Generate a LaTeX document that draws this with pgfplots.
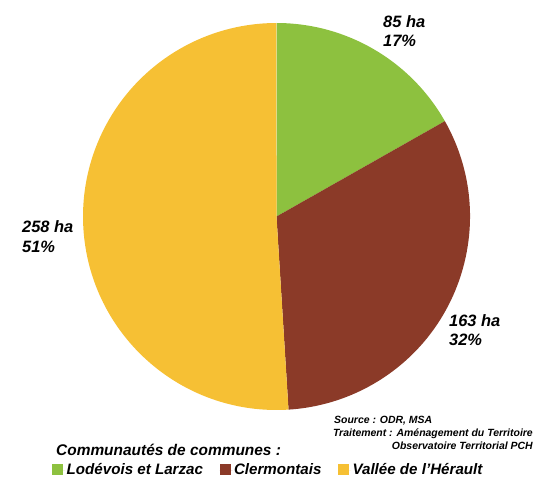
\documentclass[border=0pt]{standalone}
\usepackage{fontspec}
\setmainfont{Liberation Sans}
\usepackage{pgfplots}
\usepackage{pgfplotstable}
\pgfplotsset{compat=1.18}
\definecolor{pgreen}{RGB}{141,193,63}
\definecolor{pbrown}{RGB}{139,58,40}
\definecolor{pyellow}{RGB}{246,192,52}

\pgfplotstableread{
slice ha pct
Lodevois 85 17
Clermontais 163 32
Vallee 258 51
}\piedata
\pgfplotstablegetelem{0}{ha}\of\piedata\edef\va{\pgfplotsretval}
\pgfplotstablegetelem{1}{ha}\of\piedata\edef\vb{\pgfplotsretval}
\pgfplotstablegetelem{2}{ha}\of\piedata\edef\vc{\pgfplotsretval}
\pgfplotstablegetelem{0}{pct}\of\piedata\edef\pa{\pgfplotsretval}
\pgfplotstablegetelem{1}{pct}\of\piedata\edef\pb{\pgfplotsretval}
\pgfplotstablegetelem{2}{pct}\of\piedata\edef\pc{\pgfplotsretval}
\pgfmathsetmacro\tot{\va+\vb+\vc}
\pgfmathsetmacro\aA{90}
\pgfmathsetmacro\aB{\aA-360*(\va/\tot)}
\pgfmathsetmacro\aC{\aB-360*(\vb/\tot)}
\pgfmathsetmacro\aD{\aC-360*(\vc/\tot)}
\def\R{193.5bp}

\begin{document}
\begin{tikzpicture}
\begin{axis}[
  width=536bp, height=477bp, scale only axis,
  xmin=0, xmax=536, ymin=0, ymax=477, y dir=reverse,
  hide axis, clip=false,
  legend columns=3,
  legend style={at={(axis cs:52,478)}, anchor=south west, draw=none, fill=none,
    font=\bfseries\itshape\fontsize{15.2}{18}\selectfont, inner sep=0pt,
    /tikz/every even column/.append style={column sep=15bp},
    nodes={inner sep=1.5bp}},
  legend image code/.code={\fill[#1] (0bp,-5bp) rectangle (11bp,6bp); \path (0bp,0bp) -- (13bp,0bp);},
]
\addlegendimage{fill=pgreen, draw=none}
\addlegendentry{Lodévois et Larzac}
\addlegendimage{fill=pbrown, draw=none}
\addlegendentry{Clermontais}
\addlegendimage{fill=pyellow, draw=none}
\addlegendentry{Vallée de l'Hérault}

\fill[pgreen] (axis cs:276.5,216.5) -- ++(\aA:\R) arc[start angle=\aA, end angle=\aB, radius=\R] -- cycle;
\fill[pbrown] (axis cs:276.5,216.5) -- ++(\aB:\R) arc[start angle=\aB, end angle=\aC, radius=\R] -- cycle;
\fill[pyellow] (axis cs:276.5,216.5) -- ++(\aC:\R) arc[start angle=\aC, end angle=\aD, radius=\R] -- cycle;

\tikzset{lab/.style={anchor=base west, inner sep=0pt, font=\bfseries\itshape\fontsize{16.5}{18}\selectfont}}
\node[lab] at (axis cs:383,28) {\va\ ha};
\node[lab] at (axis cs:383,47) {\pa\%};
\node[lab] at (axis cs:449,326) {\vb\ ha};
\node[lab] at (axis cs:449,345) {\pb\%};
\node[lab] at (axis cs:22,232) {\vc\ ha};
\node[lab] at (axis cs:22,252) {\pc\%};

\node[anchor=base west, inner sep=0pt, font=\bfseries\itshape\fontsize{15.5}{17}\selectfont] at (axis cs:56,455) {Communautés de communes :};
\node[anchor=base west, inner sep=0pt, font=\bfseries\itshape\fontsize{10.5}{11}\selectfont] at (axis cs:334,423) {Source : ODR, MSA};
\node[anchor=base east, inner sep=0pt, font=\bfseries\itshape\fontsize{10.5}{11}\selectfont] at (axis cs:533,436) {Traitement : Aménagement du Territoire};
\node[anchor=base east, inner sep=0pt, font=\bfseries\itshape\fontsize{10.5}{11}\selectfont] at (axis cs:533,449) {Observatoire Territorial PCH};
\coordinate (bbA) at (axis cs:0,477);
\coordinate (bbB) at (axis cs:536,0);
\end{axis}
\pgfresetboundingbox
\path[use as bounding box] (bbA) rectangle (bbB);
\end{tikzpicture}
\end{document}
